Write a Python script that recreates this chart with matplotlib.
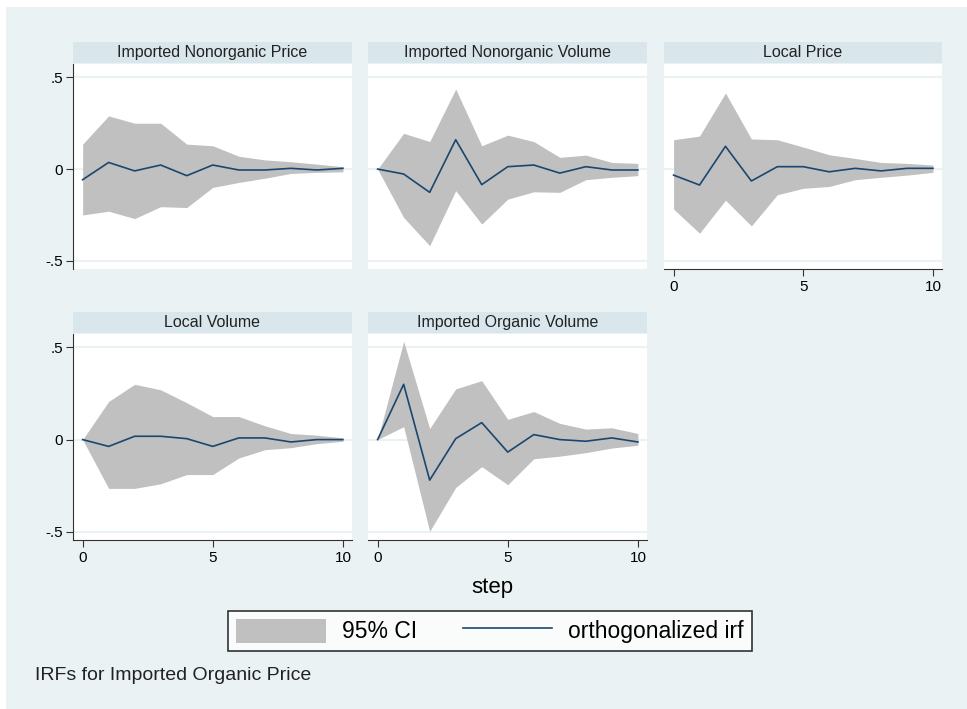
import matplotlib.pyplot as plt
from matplotlib.patches import Rectangle, Patch
from matplotlib.lines import Line2D

plt.rcParams['font.family'] = ['Liberation Sans', 'DejaVu Sans']

steps = list(range(11))

titles = ["Imported Nonorganic Price", "Imported Nonorganic Volume", "Local Price",
          "Local Volume", "Imported Organic Volume"]

# orthogonalized irf
irf_inp = [-0.058, 0.036, -0.010, 0.022, -0.036, 0.022, -0.005, -0.005, 0.004, -0.005, 0.004]
irf_inv = [0.000, -0.027, -0.127, 0.160, -0.085, 0.013, 0.022, -0.022, 0.013, -0.005, -0.005]
irf_lp = [-0.033, -0.087, 0.124, -0.065, 0.013, 0.013, -0.015, 0.004, -0.010, 0.004, 0.004]
irf_lv = [0.000, -0.037, 0.018, 0.018, 0.005, -0.037, 0.009, 0.009, -0.013, 0.000, 0.000]
irf_iov = [0.000, 0.300, -0.220, 0.005, 0.092, -0.068, 0.027, 0.000, -0.009, 0.009, -0.013]

# 95% CI upper
up_inp = [0.136, 0.290, 0.250, 0.250, 0.136, 0.127, 0.070, 0.050, 0.040, 0.027, 0.013]
up_inv = [0.000, 0.195, 0.150, 0.436, 0.127, 0.185, 0.150, 0.064, 0.076, 0.036, 0.031]
up_lp = [0.160, 0.180, 0.415, 0.164, 0.160, 0.120, 0.078, 0.058, 0.036, 0.031, 0.022]
up_lv = [0.000, 0.207, 0.300, 0.270, 0.200, 0.125, 0.125, 0.075, 0.033, 0.024, 0.009]
up_iov = [0.000, 0.533, 0.060, 0.275, 0.320, 0.110, 0.152, 0.088, 0.057, 0.064, 0.033]

# 95% CI lower
lo_inp = [-0.250, -0.230, -0.270, -0.205, -0.210, -0.100, -0.073, -0.050, -0.024, -0.018, -0.015]
lo_inv = [0.000, -0.264, -0.418, -0.118, -0.300, -0.164, -0.124, -0.127, -0.058, -0.045, -0.036]
lo_lp = [-0.218, -0.350, -0.170, -0.310, -0.140, -0.105, -0.095, -0.058, -0.045, -0.033, -0.018]
lo_lv = [0.000, -0.265, -0.265, -0.240, -0.190, -0.190, -0.100, -0.055, -0.044, -0.022, -0.009]
lo_iov = [0.000, 0.070, -0.498, -0.260, -0.147, -0.245, -0.104, -0.090, -0.071, -0.046, -0.031]

irfs = [irf_inp, irf_inv, irf_lp, irf_lv, irf_iov]
uppers = [up_inp, up_inv, up_lp, up_lv, up_iov]
lowers = [lo_inp, lo_inv, lo_lp, lo_lv, lo_iov]

yticks = [-0.5, 0, 0.5]
yticklabels = ["-.5", "0", ".5"]
xticks = [0, 5, 10]

W, H = 967, 709
bg = "#eaf2f3"
strip_col = "#d9e6eb"
line_col = "#1a476f"
ci_col = "#c0c0c0"

fig = plt.figure(figsize=(W / 100, H / 100), dpi=100)
fig.patch.set_facecolor("white")
fig.patches.append(Rectangle((6 / W, 0), 1, 1 - 7 / H, transform=fig.transFigure,
                             facecolor=bg, edgecolor="none", zorder=-10))

# pixel boxes: (left, right) of columns, (top, bottom, strip top) of rows
cols = [(73, 352), (368, 647), (664, 942)]
rows = [(64, 269, 42), (334, 540, 312)]
show_y = [True, False, False, True, False]
show_x = [False, False, True, True, True]

for i in range(5):
    r, c = divmod(i, 3)
    x0, x1 = cols[c]
    t, b, st = rows[r]
    ax = fig.add_axes([x0 / W, 1 - b / H, (x1 - x0) / W, (b - t) / H])
    ax.set_facecolor("white")
    ax.fill_between(steps, lowers[i], uppers[i], color=ci_col, linewidth=0, zorder=2)
    ax.plot(steps, irfs[i], color=line_col, linewidth=1.2, zorder=3)
    for yv in yticks:
        ax.axhline(yv, color=bg, linewidth=1.5, zorder=1)
    ax.set_xlim(-0.37, 10.35)
    ax.set_ylim(-0.545, 0.573)
    for s in ["top", "right"]:
        ax.spines[s].set_visible(False)
    ax.spines["left"].set_visible(show_y[i])
    ax.spines["bottom"].set_visible(show_x[i])
    ax.spines["left"].set_color("#333333")
    ax.spines["bottom"].set_color("#333333")
    if show_y[i]:
        ax.set_yticks(yticks)
        ax.set_yticklabels(yticklabels, fontsize=11)
        ax.tick_params(axis="y", length=5, color="#333333", pad=2)
    else:
        ax.set_yticks([])
    if show_x[i]:
        ax.set_xticks(xticks)
        ax.set_xticklabels([str(v) for v in xticks], fontsize=11)
        ax.tick_params(axis="x", length=5, color="#333333", pad=3)
    else:
        ax.set_xticks([])

    sax = fig.add_axes([x0 / W, 1 - (t - 1) / H, (x1 - x0) / W, (t - 1 - st) / H])
    sax.set_facecolor(strip_col)
    sax.set_xticks([])
    sax.set_yticks([])
    for s in sax.spines.values():
        s.set_visible(False)
    sax.text(0.5, 0.5, titles[i], ha="center", va="center", fontsize=11.5,
             color="#222222", transform=sax.transAxes)

fig.text(492 / W, 1 - 587 / H, "step", ha="center", va="center", fontsize=16)

handles = [Patch(facecolor=ci_col, edgecolor="none"),
           Line2D([0], [0], color=line_col, linewidth=1.2)]
leg = fig.legend(handles, ["95% CI", "orthogonalized irf"], loc="center",
                 bbox_to_anchor=(490 / W, 1 - 631 / H), ncol=2, fontsize=16.5,
                 frameon=True, fancybox=False, edgecolor="black",
                 handlelength=3.9, handleheight=1.25, columnspacing=2.0,
                 handletextpad=0.7, borderpad=0.35)
leg.get_frame().set_linewidth(1.2)

fig.text(35 / W, 1 - 675 / H, "IRFs for Imported Organic Price", ha="left",
         va="center", fontsize=14, color="#222222")

fig.savefig("out.png", dpi=100, facecolor=fig.get_facecolor())
